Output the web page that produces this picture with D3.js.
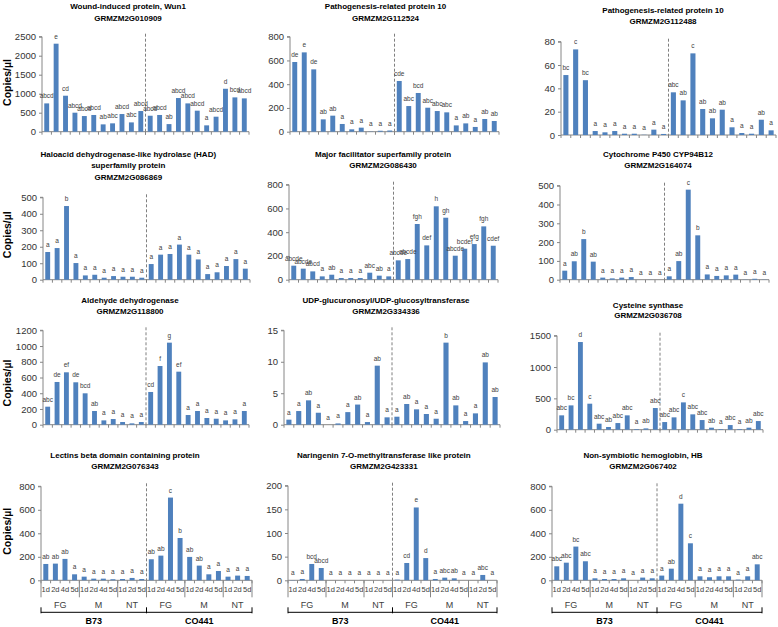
<!DOCTYPE html>
<html><head><meta charset="utf-8">
<script src="https://cdn.jsdelivr.net/npm/d3@7"></script>
<style>body{margin:0;background:#fff}svg{display:block}</style>
</head><body>
<svg id="c" width="778" height="627"></svg>
<script>
// ---- data ----
const genotypes = ["B73", "CO441"];
const groups = ["FG", "M", "NT"];
const dayLabels = ["1d","2d","4d","5d","1d","2d","4d","5d","1d","2d","5d"];
const groupSizes = [4, 4, 3];

const wun1 = [745,2316,947,500,412,440,193,220,465,245,544,420,440,200,886,745,553,167,395,1130,903,877];
const wun1L = ["abcd","e","cd","abcd","abcd","abcd","ab","abc","abcd","abc","abcd","abcd","abcd","ab","abcd","abcd","abcd","a","abcd","d","bcd","abcd"];
const pr10a = [587,668,525,104,135,65,20,34,2,8,10,427,216,326,202,174,163,53,70,40,107,90];
const pr10aL = ["de","e","de","ab","ab","a","a","a","a","a","a","cde","abc","bcd","abc","abc","abc","a","ab","a","ab","ab"];
const pr10b = [51.4,73.4,47,3.4,2.3,3.4,1.1,1.1,0.2,4.6,0.9,36.6,29.7,70,22.3,14.3,21.7,6.6,1.7,1.1,13.1,4];
const pr10bL = ["bc","c","bc","a","a","a","a","a","a","a","a","abc","ab","c","ab","ab","ab","a","a","a","ab","a"];
const had = [168,192,447,101,26,30,12,22,18,18,12,95,152,156,213,152,123,34,45,83,125,67];
const hadL = ["a","a","b","a","a","a","a","a","a","a","a","a","a","a","a","a","a","a","a","a","a","a"];
const mfs = [118,93,70,28,42,14,14,14,59,34,28,163,174,469,289,618,522,202,261,300,449,286];
const mfsL = ["abcde","abcde","abcd","a","ab","a","a","a","abc","ab","a","abcde","abcde","fgh","def","h","gh","abcde","bcdef","efg","fgh","cdef"];
const cyp = [48,98,216,96,11,7,11,14,0,0.5,0,18,99,479,236,28,20,23,27,1,5,1];
const cypL = ["a","ab","b","ab","a","a","a","a","a","a","a","a","ab","c","b","a","a","a","a","a","a","a"];
const aldh = [229,543,666,539,399,174,55,72,34,17,34,416,746,1043,674,123,174,85,76,55,68,174];
const aldhL = ["abc","de","ef","de","bcd","ab","a","a","a","a","a","cd","f","g","ef","a","a","a","a","a","a","a"];
const ugt = [0.8,2.17,3.87,1.9,0,0.2,2.0,3.2,0.42,9.38,1.17,1.27,3.29,2.44,1.7,0.95,13.04,3.07,0.58,1.8,9.9,4.4];
const ugtL = ["a","a","ab","a","a","a","a","ab","a","ab","a","a","ab","a","a","a","b","ab","a","a","ab","ab"];
const cys = [229,388,1399,415,96,43,106,229,11,21,346,122,197,436,245,154,32,11,74,11,32,138];
const cysL = ["abc","bc","d","c","abc","ab","abc","abc","a","ab","abc","abc","abc","c","abc","abc","ab","a","abc","a","ab","abc"];
const lec = [139,142,182,51,31,14,14,9,11,20,11,179,210,704,360,199,125,51,79,31,40,37];
const lecL = ["ab","ab","ab","a","a","a","a","a","a","a","a","ab","ab","c","b","ab","ab","a","a","a","a","a"];
const nar = [0.5,2.8,34.5,26,0,0,0,0,0,0,0,1.4,36.6,154,47,2.8,5.6,4.2,0,0,11.3,0];
const narL = ["a","a","bcd","abcd","a","a","a","a","a","a","a","a","cd","e","d","a","abc","ab","a","a","abc","a"];
const hb = [119,150,287,162,17,11,11,17,0,23,17,40,99,652,315,34,26,34,34,6,34,136];
const hbL = ["abc","abc","bc","abc","a","a","a","a","a","a","a","a","ab","d","c","a","a","a","a","a","a","abc"];

const titles = [
  ["Wound-induced protein, Wun1","GRMZM2G010909"],
  ["Pathogenesis-related protein 10","GRMZM2G112524"],
  ["Pathogenesis-related protein 10","GRMZM2G112488"],
  ["Haloacid dehydrogenase-like hydrolase (HAD)","superfamily protein","GRMZM2G086869"],
  ["Major facilitator superfamily protein","GRMZM2G086430"],
  ["Cytochrome P450 CYP94B12","GRMZM2G164074"],
  ["Aldehyde dehydrogenase","GRMZM2G118800"],
  ["UDP-glucuronosyl/UDP-glucosyltransferase","GRMZM2G334336"],
  ["Cysteine synthase","GRMZM2G036708"],
  ["Lectins beta domain containing protein","GRMZM2G076343"],
  ["Naringenin 7-O-methyltransferase like protein","GRMZM2G423331"],
  ["Non-symbiotic hemoglobin, HB","GRMZM2G067402"]
];
const seriesValues = [wun1, pr10a, pr10b, had, mfs, cyp, aldh, ugt, cys, lec, nar, hb];
const seriesLetters = [wun1L, pr10aL, pr10bL, hadL, mfsL, cypL, aldhL, ugtL, cysL, lecL, narL, hbL];
const yMax = [2500, 800, 80, 500, 800, 500, 1200, 15, 1500, 800, 200, 800];
const yStep = [500, 200, 20, 100, 200, 100, 200, 5, 500, 200, 50, 200];
const yTitle = "Copies/µl";

// ---- layout (positions only) ----
const layout = [
  {x0:42, x1:249, top:36.7, base:131.7, tx:128, ty:[8.5,20.5]},
  {x0:290, x1:499, top:36.7, base:131.7, tx:385.5, ty:[8.5,20.5]},
  {x0:561, x1:776, top:41.7, base:135, tx:663, ty:[12.5,24]},
  {x0:43, x1:250, top:197.3, base:279.7, tx:128.3, ty:[156.5,168,179.5]},
  {x0:289, x1:498, top:184.7, base:279.7, tx:383, ty:[156.5,167.5]},
  {x0:560, x1:769, top:185.7, base:279.7, tx:658, ty:[156.5,168]},
  {x0:43, x1:249, top:330.3, base:424.7, tx:130, ty:[302.5,314]},
  {x0:284, x1:500, top:330.3, base:424.7, tx:386, ty:[302.5,313.5]},
  {x0:557, x1:763, top:335.7, base:429.7, tx:648, ty:[307.5,318]},
  {x0:41, x1:252, top:486.3, base:580.3, tx:125, ty:[457.5,469], bottom:true},
  {x0:288, x1:497, top:485.7, base:580.3, tx:383.8, ty:[457.5,469], bottom:true},
  {x0:552, x1:762, top:486.3, base:580.3, tx:643, ty:[457.5,469], bottom:true}
];
const yTitlePos = [82.5, 234.7, 383, 531.3];

const FONT = "'Liberation Sans', Arial, sans-serif";
const BAR = "#4F81BD", AXIS = "#868686", TXT = "#404040";
const svg = d3.select("#c");

seriesValues.forEach((vals, i) => {
  const L = layout[i];
  const g = svg.append("g");
  const idx = d3.range(vals.length);
  const x = d3.scaleBand().domain(idx).range([L.x0, L.x1]).paddingInner(0.48).paddingOuter(0.24);
  const step = x.step();
  const y = d3.scaleLinear().domain([0, yMax[i]]).range([L.base, L.top]);

  // title
  titles[i].forEach((t, k) => {
    g.append("text").attr("x", L.tx).attr("y", L.ty[k]).attr("text-anchor", "middle")
      .attr("font-family", FONT).attr("font-weight", "bold").attr("font-size", 8)
      .attr("fill", "#000").text(t);
  });

  // y axis
  const ya = g.append("g").attr("transform", `translate(${L.x0},0)`)
    .call(d3.axisLeft(y).tickValues(d3.range(0, yMax[i] + yStep[i] / 2, yStep[i])).tickSize(3).tickPadding(3).tickFormat(d3.format("d")));
  ya.select(".domain").attr("stroke", AXIS).attr("d", `M-3,${L.top}H0V${L.base}`);
  ya.selectAll(".tick line").attr("stroke", AXIS);
  ya.selectAll(".tick text").attr("font-family", FONT).attr("font-size", 9.5).attr("fill", "#333");

  // x axis line
  g.append("line").attr("x1", L.x0).attr("x2", L.x1).attr("y1", L.base).attr("y2", L.base).attr("stroke", AXIS);
  // category ticks
  const bounds = d3.range(vals.length + 1).map(k => L.x0 + k * step);
  g.selectAll(".ct").data(bounds).join("line")
    .attr("x1", d => d).attr("x2", d => d).attr("y1", L.base).attr("y2", L.base + 3).attr("stroke", AXIS);

  // dashed separator
  const mid = L.x0 + 11 * step;
  g.append("line").attr("x1", mid).attr("x2", mid).attr("y1", L.top - 3).attr("y2", L.base + (L.bottom ? 0 : 3))
    .attr("stroke", "#7f7f7f").attr("stroke-width", 1).attr("stroke-dasharray", "3,2");

  // bars
  g.selectAll(".bar").data(vals).join("rect")
    .attr("x", (d, j) => x(j)).attr("width", x.bandwidth())
    .attr("y", d => y(d)).attr("height", d => L.base - y(d)).attr("fill", BAR);

  // letters
  g.selectAll(".lt").data(seriesLetters[i]).join("text")
    .attr("x", (d, j) => x(j) + x.bandwidth() / 2).attr("y", (d, j) => y(vals[j]) - 5)
    .attr("text-anchor", "middle").attr("font-family", FONT).attr("font-size", 6.5)
    .attr("fill", TXT).text(d => d);

  // bottom multi-level axis
  if (L.bottom) {
    const dl = dayLabels.concat(dayLabels);
    g.selectAll(".dl").data(dl).join("text")
      .attr("x", (d, j) => x(j) + x.bandwidth() / 2).attr("y", L.base + 12)
      .attr("text-anchor", "middle").attr("font-family", FONT).attr("font-size", 7.5)
      .attr("fill", TXT).text(d => d);
    // group boundaries
    const gb = [];
    let c = 0;
    genotypes.forEach(() => { groupSizes.forEach(s => { gb.push(c); c += s; }); });
    gb.push(c);
    g.selectAll(".gb").data(gb).join("line")
      .attr("x1", k => L.x0 + k * step).attr("x2", k => L.x0 + k * step)
      .attr("y1", L.base).attr("y2", L.base + 17).attr("stroke", AXIS);
    // group labels
    const gl = [];
    c = 0;
    genotypes.forEach(() => { groupSizes.forEach((s, gi) => { gl.push({name: groups[gi], c: c + s / 2}); c += s; }); });
    g.selectAll(".gl").data(gl).join("text")
      .attr("x", d => L.x0 + d.c * step).attr("y", L.base + 28)
      .attr("text-anchor", "middle").attr("font-family", FONT).attr("font-size", 9)
      .attr("fill", TXT).text(d => d.name);
    // genotype bracket
    g.append("line").attr("x1", L.x0).attr("x2", L.x1).attr("y1", L.base + 32).attr("y2", L.base + 32).attr("stroke", "#000");
    [0, 11, 22].forEach(k => {
      g.append("line").attr("x1", L.x0 + k * step).attr("x2", L.x0 + k * step)
        .attr("y1", L.base + 27).attr("y2", L.base + 33).attr("stroke", "#000");
    });
    genotypes.forEach((gn, gi) => {
      g.append("text").attr("x", L.x0 + (gi * 11 + 5.5) * step).attr("y", L.base + 44)
        .attr("text-anchor", "middle").attr("font-family", FONT).attr("font-weight", "bold")
        .attr("font-size", 9).attr("fill", "#000").text(gn);
    });
  }
});

// y titles
yTitlePos.forEach(cy => {
  svg.append("text").attr("transform", `translate(11,${cy}) rotate(-90)`)
    .attr("text-anchor", "middle").attr("font-family", FONT).attr("font-weight", "bold")
    .attr("font-size", 10.5).attr("fill", "#000").text(yTitle);
});
</script>
</body></html>
